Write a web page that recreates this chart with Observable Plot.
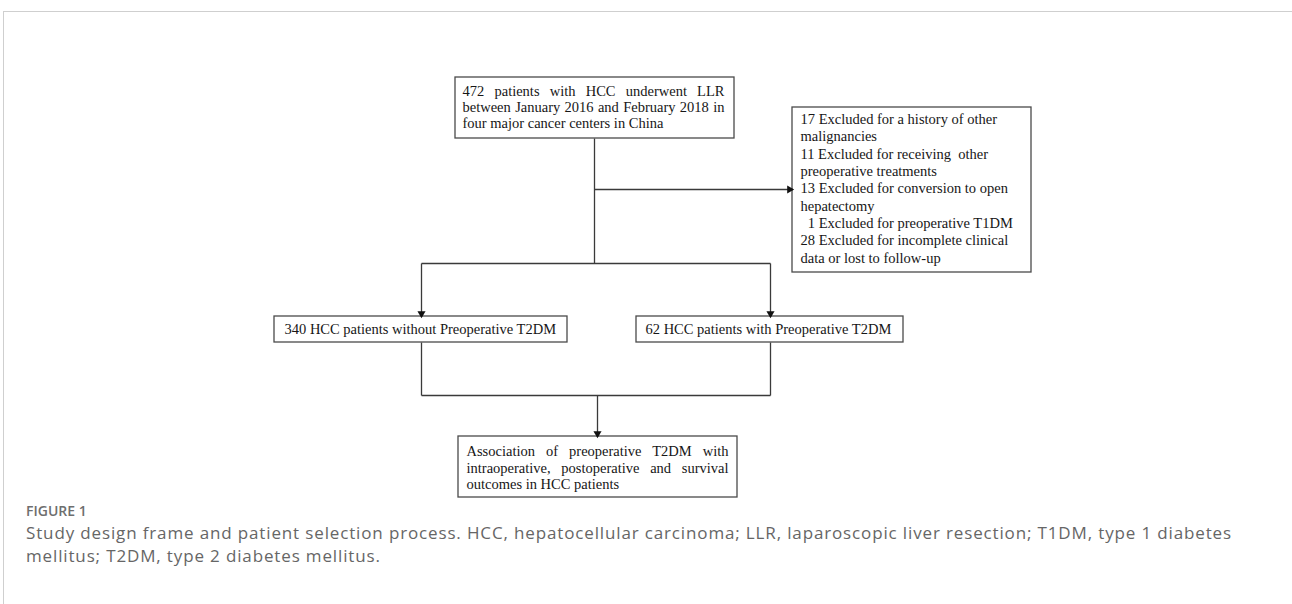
<!DOCTYPE html>
<html><head><meta charset="utf-8">
<script src="https://cdn.jsdelivr.net/npm/d3@7"></script>
<script src="https://cdn.jsdelivr.net/npm/@observablehq/plot@0.6"></script>
<style>
body{margin:0;background:#fff;width:1292px;height:604px;overflow:hidden;position:relative}
#frame{position:absolute;left:3px;top:11px;width:1289px;height:593px;border-top:1px solid #cfcfcf;border-left:1px solid #cfcfcf}
#chart{position:absolute;left:0;top:0}
#chart text{white-space:pre}
#caption{position:absolute;left:26px;top:501px;color:#666;font-family:"Open Sans",sans-serif;white-space:nowrap}
#caption .fig{font-size:14px;font-weight:600;line-height:20px;color:#6e6e6e}
#caption .txt{font-size:17px;line-height:23px;margin-top:0px}
</style></head><body>
<div id="frame"></div>
<div id="chart"></div>
<div id="caption"></div>
<script>
// ---- data (texts of the flow chart) ----
const topLines = ["472 patients with HCC underwent LLR", "between January 2016 and February 2018 in", "four major cancer centers in China"];
const exclusionLines = ["17 Excluded for a history of other", "malignancies", "11 Excluded for receiving  other", "preoperative treatments", "13 Excluded for conversion to open", "hepatectomy", "  1 Excluded for preoperative T1DM", "28 Excluded for incomplete clinical", "data or lost to follow-up"];
const groupLabels = ["340 HCC patients without Preoperative T2DM", "62 HCC patients with Preoperative T2DM"];
const outcomeLines = ["Association of preoperative T2DM with", "intraoperative, postoperative and survival", "outcomes in HCC patients"];
const figureLabel = "FIGURE 1";
const captionLines = ["Study design frame and patient selection process. HCC, hepatocellular carcinoma; LLR, laparoscopic liver resection; T1DM, type 1 diabetes", "mellitus; T2DM, type 2 diabetes mellitus."];

// ---- layout (page pixel coordinates) ----
const W = 1292, H = 502;
const boxes = {
  top:    {x1: 455, x2: 734, y1: 77,  y2: 138, tx: 462, tw: 262, ty0: 91,  lh: 16},
  excl:   {x1: 792, x2: 1031, y1: 107, y2: 272, tx: 800, ty0: 119, lh: 17.3},
  left:   {x1: 274, x2: 567, y1: 316, y2: 342, tx: 284, ty0: 329, lh: 16},
  right:  {x1: 636, x2: 903, y1: 316, y2: 342, tx: 645, ty0: 329, lh: 16},
  bottom: {x1: 458, x2: 737, y1: 436, y2: 497, tx: 466, tw: 262, ty0: 451, lh: 16.5}
};
const trunkX = 594, splitY = 263, exclY = 189, leftX = 421, rightX = 770, joinY = 395, outX = 597;
const lines = [
  {x1: trunkX, y1: boxes.top.y2, x2: trunkX, y2: splitY},
  {x1: trunkX, y1: exclY, x2: boxes.excl.x1, y2: exclY},
  {x1: leftX, y1: splitY, x2: rightX, y2: splitY},
  {x1: leftX, y1: splitY, x2: leftX, y2: boxes.left.y1},
  {x1: rightX, y1: splitY, x2: rightX, y2: boxes.right.y1},
  {x1: leftX, y1: boxes.left.y2, x2: leftX, y2: joinY},
  {x1: rightX, y1: boxes.right.y2, x2: rightX, y2: joinY},
  {x1: leftX, y1: joinY, x2: rightX, y2: joinY},
  {x1: outX, y1: joinY, x2: outX, y2: boxes.bottom.y1}
];
const heads = [
  {x: boxes.excl.x1 - 3, y: exclY, rot: 90},
  {x: leftX, y: boxes.left.y1 - 3, rot: 180},
  {x: rightX, y: boxes.right.y1 - 3, rot: 180},
  {x: outX, y: boxes.bottom.y1 - 3, rot: 180}
];

function linesFor(b, arr) {
  return arr.map((t, i) => ({x: b.tx, y: b.ty0 + i * b.lh, t, tw: b.tw, j: !!b.tw && i < arr.length - 1}));
}
const plain = [
  ...linesFor(boxes.excl, exclusionLines),
  {x: boxes.left.tx, y: boxes.left.ty0, t: groupLabels[0]},
  {x: boxes.right.tx, y: boxes.right.ty0, t: groupLabels[1]},
  ...linesFor(boxes.top, topLines).filter(d => !d.j),
  ...linesFor(boxes.bottom, outcomeLines).filter(d => !d.j)
];
const justified = [
  ...linesFor(boxes.top, topLines).filter(d => d.j),
  ...linesFor(boxes.bottom, outcomeLines).filter(d => d.j)
];
const boxData = Object.values(boxes);

const font = {fontFamily: "Liberation Serif", fontSize: 14.5, fill: "#161616", textAnchor: "start"};
const chart = Plot.plot({
  width: W, height: H, margin: 0,
  style: {background: "transparent"},
  x: {domain: [0, W], range: [0, W], axis: null},
  y: {domain: [0, H], range: [0, H], axis: null},
  marks: [
    Plot.rect(boxData, {x1: "x1", x2: "x2", y1: "y1", y2: "y2", fill: "white", stroke: "#4a4a4a", strokeWidth: 1.3}),
    Plot.link(lines, {x1: "x1", y1: "y1", x2: "x2", y2: "y2", stroke: "#3a3a3a", strokeWidth: 1.3}),
    Plot.dot(heads, {x: "x", y: "y", rotate: "rot", symbol: "triangle", r: 3, fill: "#111", stroke: "none"}),
    Plot.text(plain, {x: "x", y: "y", text: "t", ...font}),
    Plot.text(justified, {x: "x", y: "y", text: "t", ...font})
  ]
});
document.getElementById("chart").appendChild(chart);

// justify lines to box text width using word spacing
Array.from(chart.querySelectorAll("text")).forEach(el => {
  const d = justified.find(d => d.t === el.textContent);
  if (!d) return;
  const w = el.getComputedTextLength();
  const n = (d.t.match(/ /g) || []).length;
  if (n > 0) el.setAttribute("word-spacing", ((d.tw - w) / n).toFixed(2));
});

const cap = document.getElementById("caption");
cap.innerHTML = `<div class="fig">${figureLabel}</div><div class="txt"><span id="l1">${captionLines[0]}</span><br>${captionLines[1]}</div>`;
// fit caption line 1 to its width in the reference with letter spacing
const l1 = document.getElementById("l1");
const target = 1206;
const ls = (target - l1.getBoundingClientRect().width) / captionLines[0].length;
cap.querySelector(".txt").style.letterSpacing = ls.toFixed(3) + "px";
</script>
</body></html>
